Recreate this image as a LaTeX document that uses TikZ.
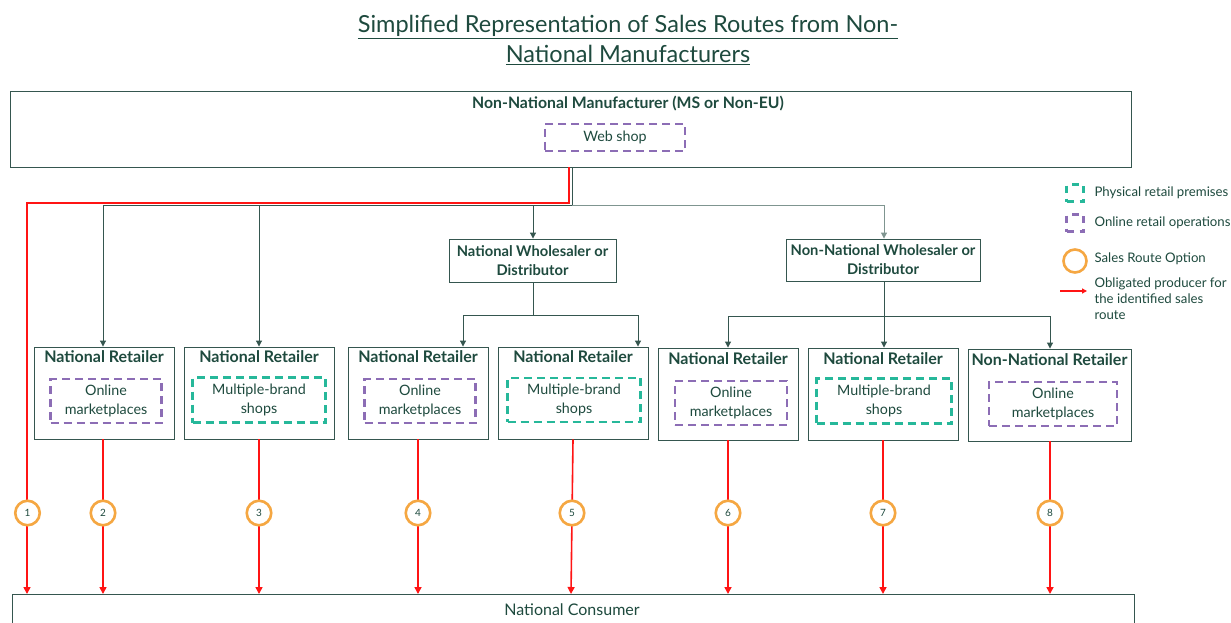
\documentclass[tikz,border=0pt]{standalone}
\usepackage{fontspec}
\setmainfont{Lato}
\usetikzlibrary{arrows.meta}
\definecolor{dk}{HTML}{1E4A3E}
\definecolor{bd}{HTML}{35564F}
\definecolor{gl}{HTML}{7F9590}
\definecolor{pur}{HTML}{8C6DB5}
\definecolor{tea}{HTML}{26B89A}
\definecolor{org}{HTML}{F5A742}
\definecolor{rd}{HTML}{FF1414}
\tikzset{
  box/.style={draw=bd, line width=0.9pt, fill=white, inner sep=0pt},
  onl/.style={draw=pur, line width=2.6pt, dash pattern=on 8pt off 5pt, align=center,
    font=\fontsize{14.3}{18.5}\selectfont, text=dk, inner sep=0pt},
  phy/.style={onl, draw=tea},
  ttl/.style={font=\bfseries\fontsize{16}{18}\selectfont, text=dk},
  wtl/.style={font=\bfseries\fontsize{14.7}{19}\selectfont, text=dk, align=center},
  conn/.style={draw=bd, line width=1pt},
  arr/.style={conn, -{Triangle[length=6pt,width=6pt]}},
  rarr/.style={draw=rd, line width=1.6pt, -{Triangle[length=7pt,width=7pt]}},
  route/.style={circle, draw=org, line width=2.6pt, fill=white, minimum size=24.5pt,
    inner sep=0pt, font=\fontsize{10}{11}\selectfont, text=dk},
  leg/.style={font=\fontsize{13.2}{16}\selectfont, text=dk, anchor=west, align=left},
}
\begin{document}
\begin{tikzpicture}[x=1pt,y=-1pt]
\clip (0,0) rectangle (1231,623);
\fill[white] (0,0) rectangle (1231,623);

% title
\node[font=\fontsize{23.5}{30}\selectfont, text=dk, align=center] (title) at (628,40)
  {\underline{Simplified Representation of Sales Routes from Non-}\\\underline{National Manufacturers}};

% manufacturer
\node[box, minimum width=1121pt, minimum height=76pt] (man) at (570.5,129) {};
\node[ttl, font=\bfseries\fontsize{15.8}{18}\selectfont] (mant) at (628,104) {Non-National Manufacturer (MS or Non-EU)};
\node[onl, minimum width=140pt, minimum height=27pt] (web) at (615,137.5) {Web shop};

% wholesalers
\node[box, minimum width=167pt, minimum height=43pt, wtl] (nw) at (532.5,260.5) {National Wholesaler or\\Distributor};
\node[box, minimum width=194pt, minimum height=42pt, wtl] (nnw) at (883,260) {Non-National Wholesaler or\\Distributor};

% retailers
\node[box, minimum width=140pt, minimum height=92pt] (r1) at (104,393) {};
\node[box, minimum width=150pt, minimum height=92pt] (r2) at (259,393) {};
\node[box, minimum width=140pt, minimum height=92pt] (r3) at (418,393) {};
\node[box, minimum width=150pt, minimum height=92pt] (r4) at (573,393) {};
\node[box, minimum width=140pt, minimum height=92pt] (r5) at (728,394) {};
\node[box, minimum width=150pt, minimum height=92pt] (r6) at (883,394) {};
\node[box, minimum width=163pt, minimum height=92pt] (r7) at (1049.5,395) {};

\node[ttl] (t1) at (104,357) {National Retailer};
\node[ttl] (t2) at (259,357) {National Retailer};
\node[ttl] (t3) at (418,357) {National Retailer};
\node[ttl] (t4) at (573,357) {National Retailer};
\node[ttl] (t5) at (728,358.5) {National Retailer};
\node[ttl] (t6) at (883,358.5) {National Retailer};
\node[ttl] (t7) at (1049.5,360) {Non-National Retailer};

\node[onl, minimum width=111pt, minimum height=44pt] (i1) at (106,401) {Online\\marketplaces};
\node[phy, minimum width=133pt, minimum height=45pt] (i2) at (259,400) {Multiple-brand\\shops};
\node[onl, minimum width=111pt, minimum height=44pt] (i3) at (420,401) {Online\\marketplaces};
\node[phy, minimum width=133pt, minimum height=44pt] (i4) at (574,400) {Multiple-brand\\shops};
\node[onl, minimum width=112pt, minimum height=44pt] (i5) at (731,403) {Online\\marketplaces};
\node[phy, minimum width=135pt, minimum height=45pt] (i6) at (884,401) {Multiple-brand\\shops};
\node[onl, minimum width=128pt, minimum height=44pt] (i7) at (1053,404) {Online\\marketplaces};

% consumer
\node[box, minimum width=1122pt, minimum height=60pt, anchor=north west] (con) at (12,594) {};
\node[font=\fontsize{16}{18}\selectfont, text=dk] (cont) at (572,610) {National Consumer};

% connector tree
\coordinate (j0) at (572,205);
\coordinate (ja) at (103,205);
\coordinate (jb) at (884,205);
\draw[conn] (man.south -| j0) -- (j0);
\draw[conn] (ja) -- (j0);
\draw[draw=gl, line width=1pt] (j0) -- (jb);
\draw[arr] (ja) -- (r1.north -| ja);
\draw[arr] (259,205) -- (r2.north);
\draw[arr] (533,205) -- (nw.north -| 533,0);
\draw[arr, draw=gl] (jb) -- (nnw.north -| jb);

\coordinate (k0) at (533,315);
\draw[conn] (nw.south -| k0) -- (k0);
\draw[conn] (463,315) -- (638,315);
\draw[arr] (463,315) -- (r3.north -| 463,0);
\draw[arr] (638,315) -- (r4.north -| 638,0);

\coordinate (m0) at (884,316);
\draw[conn] (nnw.south -| m0) -- (m0);
\draw[conn] (728,316) -- (1050,316);
\draw[arr] (728,316) -- (r5.north -| 728,0);
\draw[arr] (m0) -- (r6.north -| m0);
\draw[arr] (1050,316) -- (r7.north -| 1050,0);

% red routes
\coordinate (rc) at (569,203);
\coordinate (rl) at (27,203);
\draw[rarr] (man.south -| rc) -- (rc) -- (rl) -- (con.north -| rl);
\draw[rarr] (r1.south -| 103,0) -- (con.north -| 103,0);
\draw[rarr] (r2.south) -- (con.north -| r2.south);
\draw[rarr] (r3.south) -- (con.north -| r3.south);
\draw[rarr] (r4.south) -- (con.north -| 571,0);
\draw[rarr] (r5.south) -- (con.north -| r5.south);
\draw[rarr] (r6.south) -- (con.north -| r6.south);
\draw[rarr] (r7.south -| 1050,0) -- (con.north -| 1050,0);

% route circles
\node[route] (c1) at (27.5,513) {1};
\node[route] (c2) at (103,513) {2};
\node[route] (c3) at (259,513) {3};
\node[route] (c4) at (418,513) {4};
\node[route] (c5) at (572,513) {5};
\node[route] (c6) at (728,513) {6};
\node[route] (c7) at (883,513) {7};
\node[route] (c8) at (1050,513) {8};

% legend
\node[draw=tea, line width=2.6pt, dash pattern=on 7pt off 6pt, minimum size=17pt, inner sep=0pt] (lg1) at (1075,193) {};
\node[leg] (lt1) at (1091,193) {Physical retail premises};
\node[draw=pur, line width=2.6pt, dash pattern=on 7pt off 6pt, minimum size=17pt, inner sep=0pt] (lg2) at (1075,223) {};
\node[leg] (lt2) at (1091,223) {Online retail operations};
\node[circle, draw=org, line width=2.6pt, minimum size=23pt, inner sep=0pt] (lg3) at (1075,261) {};
\node[leg] (lt3) at (1091,259) {Sales Route Option};
\coordinate (lg4a) at (1060,291);
\coordinate (lg4b) at (1087,291);
\draw[draw=rd, line width=1.2pt, -{Triangle[length=5pt,width=5pt]}] (lg4a) -- (lg4b);
\node[leg, anchor=north west, font=\fontsize{13.2}{16}\selectfont] (lt4) at (1091,274) {Obligated producer for\\the identified sales\\route};
\end{tikzpicture}
\end{document}
